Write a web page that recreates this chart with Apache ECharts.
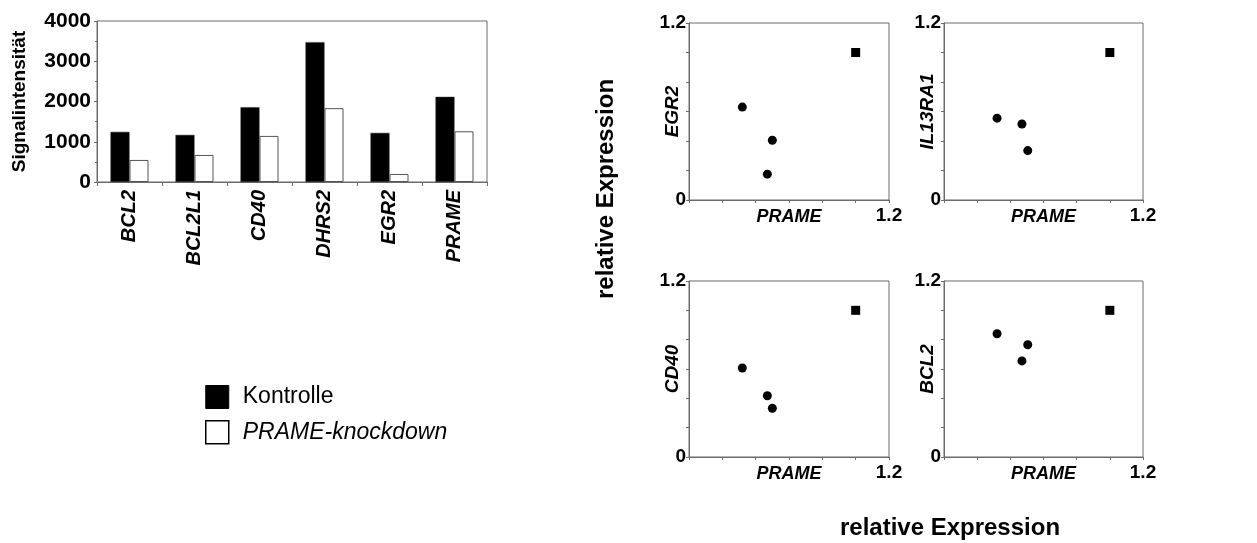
<!DOCTYPE html>
<html>
<head>
<meta charset="utf-8">
<script src="https://cdn.jsdelivr.net/npm/echarts@6/dist/echarts.min.js"></script>
<style>
html,body{margin:0;padding:0;background:#fff;}
#c{width:1257px;height:543px;}
</style>
</head>
<body>
<div id="c"></div>
<script>
// ---- Bar chart data ----
const categories = ['BCL2', 'BCL2L1', 'CD40', 'DHRS2', 'EGR2', 'PRAME'];
const kontrolle = [1245, 1170, 1860, 3475, 1220, 2115];
const knockdown = [548, 672, 1145, 1835, 200, 1260];
const barTicks = [0, 1000, 2000, 3000, 4000];

// ---- Scatter panels (x = PRAME, y = gene), relative expression ----
const panelGenes = ['EGR2', 'IL13RA1', 'CD40', 'BCL2'];
const egr2Circles = [[0.32, 0.63], [0.50, 0.405], [0.47, 0.175]];
const egr2Square = [[1.0, 1.0]];
const il13ra1Circles = [[0.32, 0.555], [0.47, 0.515], [0.505, 0.335]];
const il13ra1Square = [[1.0, 1.0]];
const cd40Circles = [[0.32, 0.607], [0.47, 0.418], [0.50, 0.332]];
const cd40Square = [[1.0, 1.0]];
const bcl2Circles = [[0.32, 0.84], [0.505, 0.765], [0.47, 0.655]];
const bcl2Square = [[1.0, 1.0]];
const scatterTickLabelsY = [0, 1.2];
const scatterTickLabelsX = [1.2];

const panelCircles = [egr2Circles, il13ra1Circles, cd40Circles, bcl2Circles];
const panelSquares = [egr2Square, il13ra1Square, cd40Square, bcl2Square];

const FONT = 'Arial, "Liberation Sans", Helvetica, sans-serif';
const AXIS_GREY = '#6b6b6b';

const chart = echarts.init(document.getElementById('c'), null, {renderer: 'canvas'});

const grids = [
  {left: 97, top: 21, width: 390, height: 161},
  {left: 689, top: 23, width: 200, height: 177},
  {left: 944, top: 23, width: 199, height: 177},
  {left: 689, top: 281, width: 200, height: 176},
  {left: 944, top: 281, width: 199, height: 176}
].map(g => Object.assign({show: true, borderColor: AXIS_GREY, borderWidth: 1, backgroundColor: 'transparent'}, g));

const xAxes = [{
  type: 'category', gridIndex: 0, data: categories,
  axisLine: {lineStyle: {color: AXIS_GREY, width: 1}},
  axisTick: {show: true, length: 4, lineStyle: {color: AXIS_GREY}},
  axisLabel: {rotate: 90, margin: 8, color: '#000', fontFamily: FONT, fontWeight: 'bold', fontStyle: 'italic', fontSize: 20}
}];
const yAxes = [{
  type: 'value', gridIndex: 0, min: 0, max: 4000, interval: 1000,
  name: 'Signalintensität', nameLocation: 'middle', nameGap: 68, nameMoveOverlap: false,
  nameTextStyle: {color: '#000', fontFamily: FONT, fontWeight: 'bold', fontSize: 19},
  axisLine: {show: true, lineStyle: {color: AXIS_GREY, width: 1}},
  axisTick: {show: true, length: 3, lineStyle: {color: AXIS_GREY}},
  minorTick: {show: true, splitNumber: 2, length: 2, lineStyle: {color: AXIS_GREY}},
  splitLine: {show: false},
  axisLabel: {margin: 6, color: '#000', fontFamily: FONT, fontWeight: 'bold', fontSize: 21,
    formatter: v => barTicks.includes(v) ? String(v) : ''}
}];

const near = (a, b) => Math.abs(a - b) < 1e-6;
for (let i = 0; i < 4; i++) {
  xAxes.push({
    type: 'value', gridIndex: i + 1, min: 0, max: 1.2, interval: 0.2,
    name: 'PRAME', nameLocation: 'middle', nameGap: 8, nameMoveOverlap: false,
    nameTextStyle: {color: '#000', fontFamily: FONT, fontWeight: 'bold', fontStyle: 'italic', fontSize: 18, verticalAlign: 'top'},
    axisLine: {show: true, lineStyle: {color: AXIS_GREY, width: 1}},
    axisTick: {show: true, length: 3, lineStyle: {color: AXIS_GREY}},
    splitLine: {show: false},
    axisLabel: {margin: 6, color: '#000', fontFamily: FONT, fontWeight: 'bold', fontSize: 19,
      formatter: v => scatterTickLabelsX.some(t => near(t, v)) ? String(+v.toFixed(1)) : ''}
  });
  yAxes.push({
    type: 'value', gridIndex: i + 1, min: 0, max: 1.2, interval: 0.2,
    name: panelGenes[i], nameLocation: 'middle', nameGap: 7, nameMoveOverlap: false,
    nameTextStyle: {color: '#000', fontFamily: FONT, fontWeight: 'bold', fontStyle: 'italic', fontSize: 19},
    axisLine: {show: true, lineStyle: {color: AXIS_GREY, width: 1}},
    axisTick: {show: true, length: 3, lineStyle: {color: AXIS_GREY}},
    splitLine: {show: false},
    axisLabel: {margin: 3, color: '#000', fontFamily: FONT, fontWeight: 'bold', fontSize: 19,
      formatter: v => scatterTickLabelsY.some(t => near(t, v)) ? String(+v.toFixed(1)) : ''}
  });
}

const series = [
  {name: 'Kontrolle', type: 'bar', xAxisIndex: 0, yAxisIndex: 0, data: kontrolle,
    barWidth: 19, barGap: '0%', itemStyle: {color: '#000', borderColor: '#333', borderWidth: 0.5}},
  {name: 'PRAME-knockdown', type: 'bar', xAxisIndex: 0, yAxisIndex: 0, data: knockdown,
    barWidth: 19, barGap: '0%', itemStyle: {color: '#fff', borderColor: '#555', borderWidth: 1}}
];
for (let i = 0; i < 4; i++) {
  series.push({type: 'scatter', xAxisIndex: i + 1, yAxisIndex: i + 1, data: panelCircles[i],
    symbol: 'circle', symbolSize: 9, itemStyle: {color: '#000', opacity: 1}});
  series.push({type: 'scatter', xAxisIndex: i + 1, yAxisIndex: i + 1, data: panelSquares[i],
    symbol: 'rect', symbolSize: 9, itemStyle: {color: '#000', opacity: 1}});
}

chart.setOption({
  animation: false,
  backgroundColor: '#fff',
  grid: grids,
  xAxis: xAxes,
  yAxis: yAxes,
  legend: {
    orient: 'vertical', left: 205, top: 385, padding: 0, itemWidth: 23, itemHeight: 23, itemGap: 11,
    icon: 'rect', selectedMode: false,
    data: [
      {name: 'Kontrolle', itemStyle: {color: '#000', borderColor: '#000', borderWidth: 1}},
      {name: 'PRAME-knockdown', itemStyle: {color: '#fff', borderColor: '#000', borderWidth: 1.5}}
    ],
    formatter: n => n === 'PRAME-knockdown' ? '{i|' + n + '}' : '{n|' + n + '}',
    textStyle: {color: '#000', fontFamily: FONT, fontSize: 23,
      rich: {
        n: {fontFamily: FONT, fontSize: 23, color: '#000', padding: [0, 0, 0, 9]},
        i: {fontFamily: FONT, fontSize: 23, color: '#000', fontStyle: 'italic', padding: [0, 0, 0, 9]}
      }}
  },
  graphic: [
    {type: 'text', x: 606, y: 189, rotation: Math.PI / 2,
      style: {text: 'relative Expression', font: 'bold 24px ' + FONT, fill: '#000', align: 'center', verticalAlign: 'middle'}},
    {type: 'text', x: 950, y: 528,
      style: {text: 'relative Expression', font: 'bold 24px ' + FONT, fill: '#000', align: 'center', verticalAlign: 'middle'}}
  ],
  series: series
});
</script>
</body>
</html>
